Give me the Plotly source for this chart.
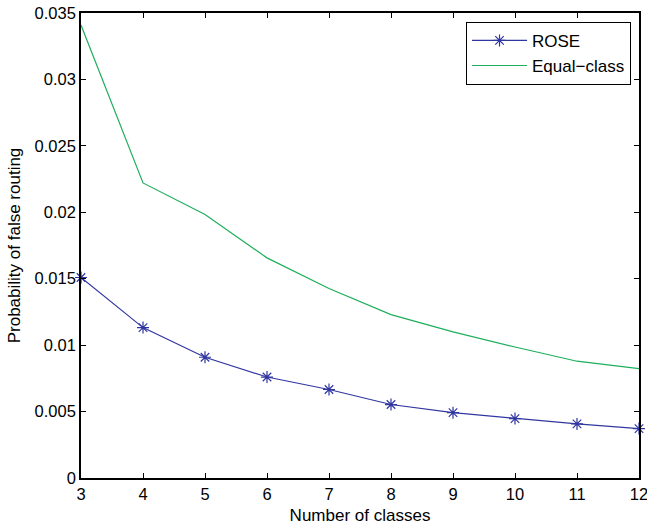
import plotly.graph_objects as go

classes = [3, 4, 5, 6, 7, 8, 9, 10, 11, 12]
rose = [0.01509, 0.01132, 0.00909, 0.0076, 0.00666, 0.00553, 0.00492, 0.00447, 0.00407, 0.00372]
equal_class = [0.03409, 0.02221, 0.01983, 0.01657, 0.01426, 0.0123, 0.0110, 0.00986, 0.00879, 0.00824]
y_ticks = [0, 0.005, 0.01, 0.015, 0.02, 0.025, 0.03, 0.035]
y_ticktext = ["0", "0.005", "0.01", "0.015", "0.02", "0.025", "0.03", "0.035"]

font = "Liberation Sans, Arial, Helvetica, sans-serif"

fig = go.Figure()
fig.add_trace(go.Scatter(
    x=classes, y=rose, name="ROSE", mode="lines+markers",
    line=dict(color="#3036a0", width=1.2),
    marker=dict(symbol="asterisk-open", size=10, color="#3036a0",
                line=dict(color="#3036a0", width=1.2)),
    cliponaxis=False,
))
fig.add_trace(go.Scatter(
    x=classes, y=equal_class, name="Equal\u2212class", mode="lines",
    line=dict(color="#1fae5c", width=1.2),
    cliponaxis=False,
))

axis_common = dict(
    showgrid=False, zeroline=False, showline=True, linecolor="black", linewidth=1.6,
    mirror="ticks", ticks="inside", ticklen=5, tickcolor="black", tickwidth=1,
    tickfont=dict(family=font, size=16.5, color="black"), automargin=False,
    ticklabeloverflow="allow",
)
fig.update_xaxes(range=[3, 12], tickvals=classes, ticktext=[str(c) for c in classes],
                 title=dict(text="Number of classes", font=dict(family=font, size=17, color="black"), standoff=9),
                 **axis_common)
fig.update_yaxes(range=[0, 0.035], tickvals=y_ticks, ticktext=y_ticktext,
                 title=dict(text="Probability of false routing", font=dict(family=font, size=17, color="black"), standoff=10),
                 **axis_common)

fig.update_layout(
    width=647, height=525,
    margin=dict(l=81, r=8, t=13, b=47),
    plot_bgcolor="white", paper_bgcolor="white",
    font=dict(family=font, size=16, color="black"),
    legend=dict(x=0.9857, xanchor="right", y=0.981, yanchor="top",
                bgcolor="white", bordercolor="black", borderwidth=1,
                font=dict(family=font, size=17, color="black"),
                tracegroupgap=0, itemwidth=55),
    showlegend=True,
)

fig.write_html("out.html")
